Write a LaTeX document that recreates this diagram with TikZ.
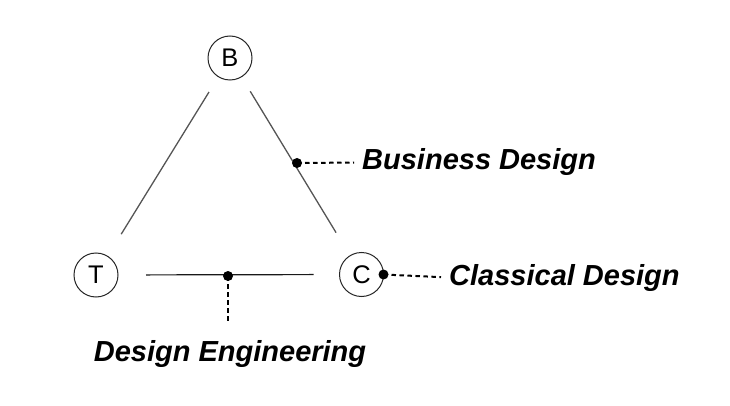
\documentclass[tikz,border=0pt]{standalone}
\usepackage{fontspec}
\setmainfont{Liberation Sans}
\usetikzlibrary{positioning}
\usetikzlibrary{arrows.meta}
\definecolor{sidegray}{RGB}{85,85,85}

\begin{document}
\begin{tikzpicture}[x=1pt, y=-1pt,
    corner/.style={circle, draw=black!85, line width=1pt, minimum size=44pt, inner sep=0pt, outer sep=0pt, font=\fontsize{25.5}{28}\selectfont},
    side/.style={draw=sidegray, line width=1.3pt},
    leader/.style={draw=black, line width=2pt, dash pattern=on 4.5pt off 3.5pt},
    tag/.style={inner sep=0pt, font=\fontsize{29}{34}\selectfont\bfseries\itshape},
    dot/.style={fill=black}]
            \useasboundingbox (0,0) rectangle (730,406);
            % triangle corners
            \node[corner] (B) at (230,58) {B};
            \node[corner] (T) at (96,275) {T};
            \node[corner] (C) at (361.5,274.5) {C};

            % sides
            \draw[side, shorten <=18pt, shorten >=26pt] (B) -- (T);
            \draw[side, shorten <=17pt, shorten >=27pt] (B) -- (C);
            \draw[draw=black!90, line width=1.2pt, shorten <=28pt, shorten >=26pt] (T) -- (C);

            % labels
            \coordinate (bd) at (297,163);
            \coordinate (de) at (228,276);
            \node[tag, anchor=base west] (bdtext) at (362,170) {Business Design};
            \node[tag, anchor=base west] (cdtext) at (449,285) {Classical Design};
            \node[tag, anchor=base] (detext) at (230,361.5) {Design Engineering};

            \draw[leader, shorten >=8pt] (bd) -- (bdtext.west);
            \draw[leader, shorten >=8pt] (C.east) -- (cdtext.west);
            \draw[leader, shorten >=17pt] (de) -- (de |- detext.north);

            \fill[dot] (bd) circle (5pt);
            \fill[dot] (de) circle (5pt);
            \fill[dot] (C.east) circle (5pt);
        \end{tikzpicture}
\end{document}
